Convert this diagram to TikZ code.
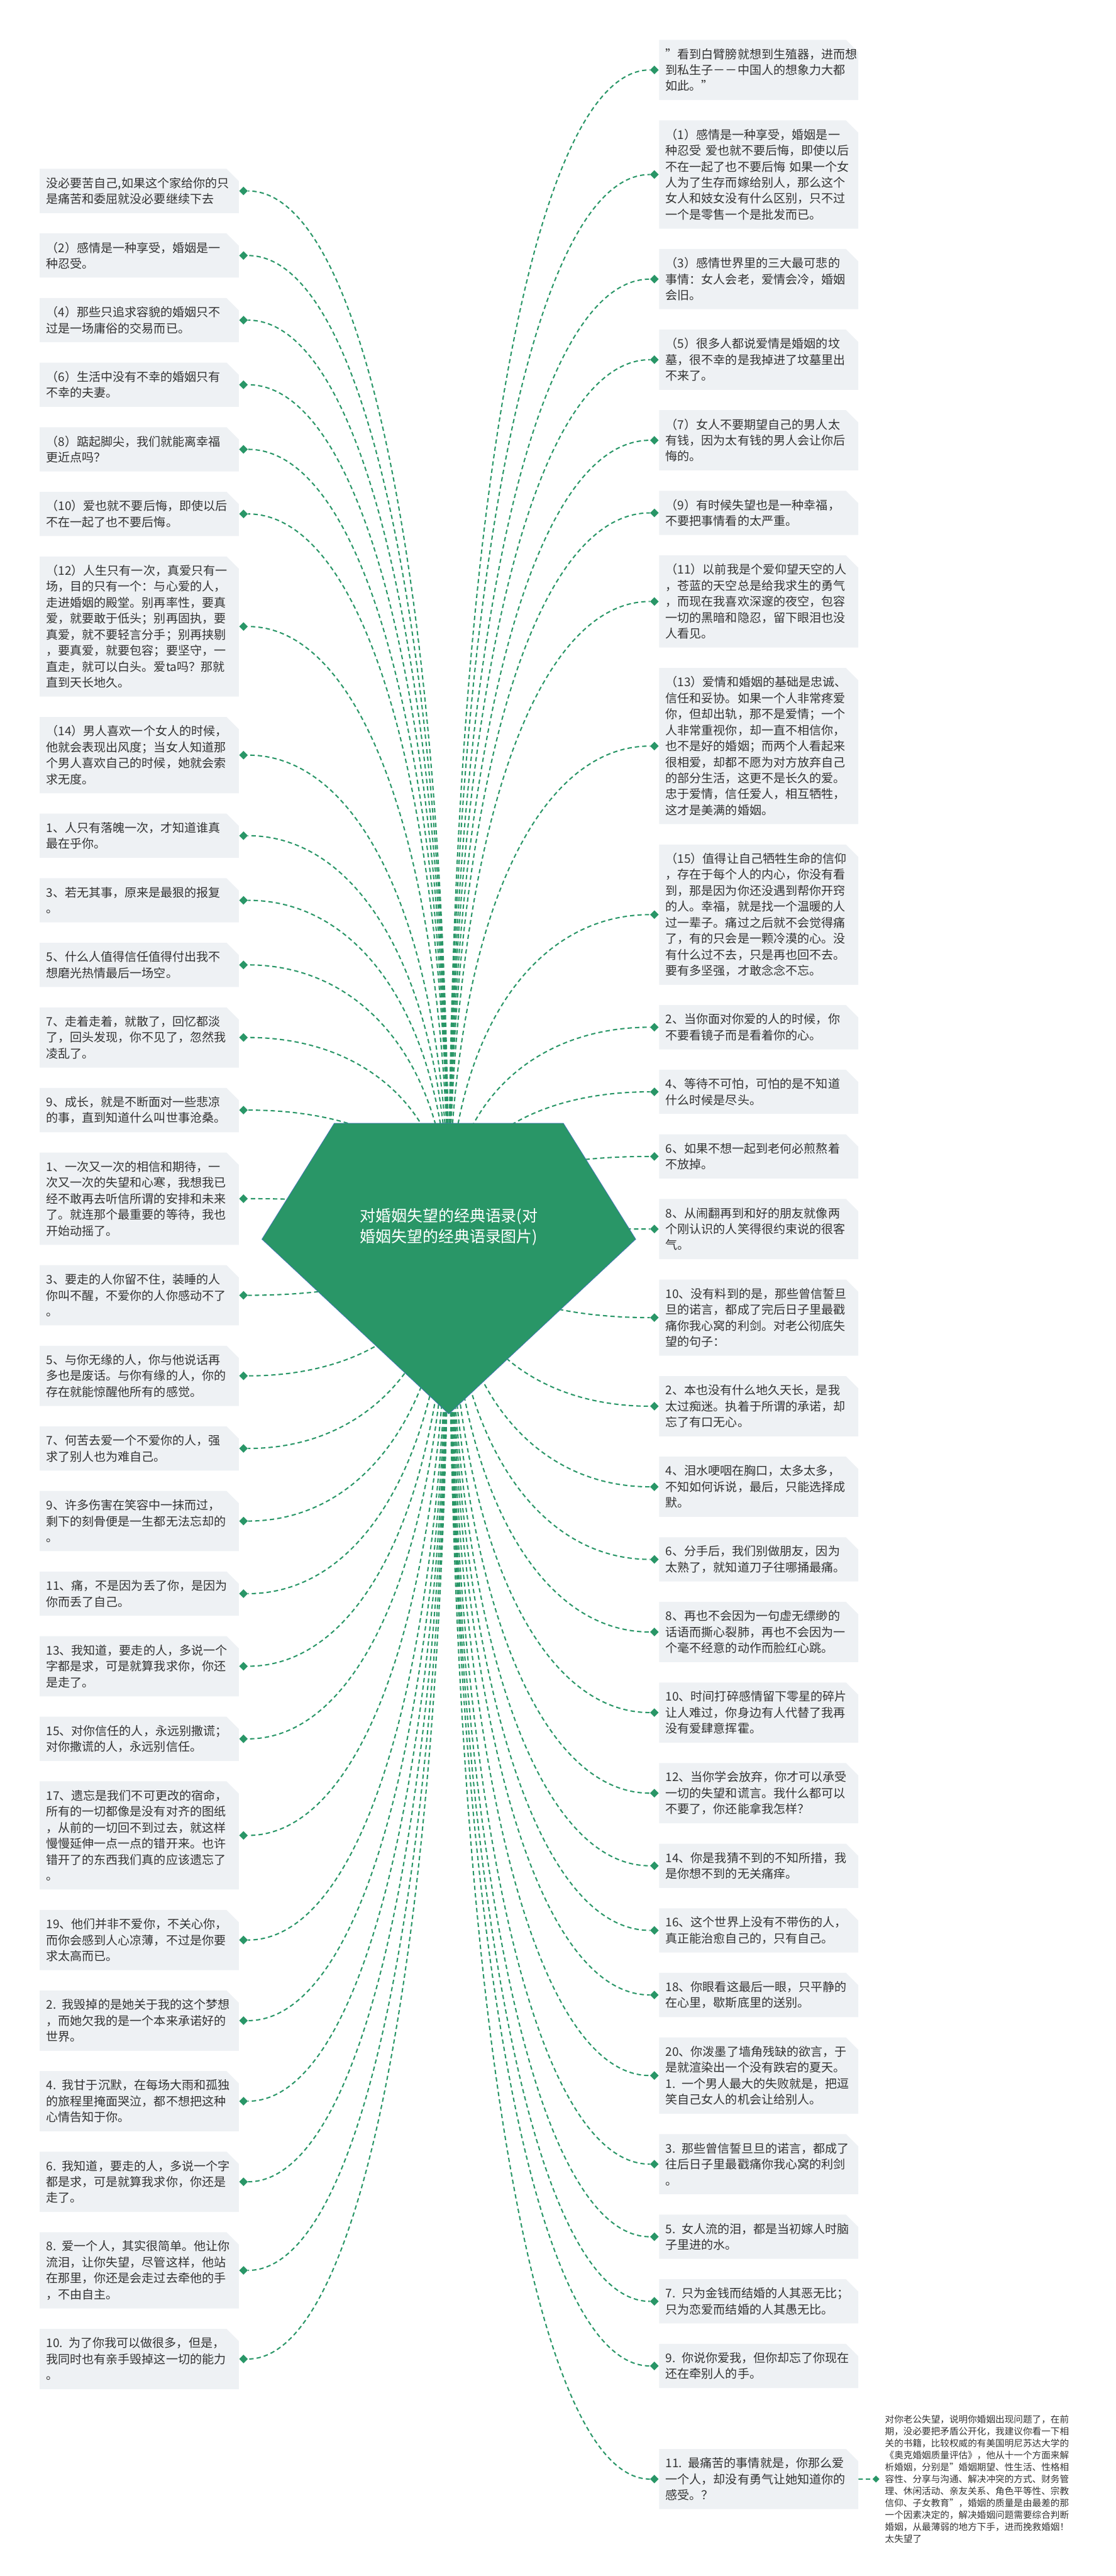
\documentclass[tikz,border=0pt]{standalone}
\usepackage{fontspec}
\setmainfont{Noto Sans CJK SC}
\usepackage{tikz}
\usetikzlibrary{shapes,positioning,calc,backgrounds}
\definecolor{hubgreen}{RGB}{41,150,103}
\definecolor{boxgray}{RGB}{238,241,244}
\definecolor{inkgray}{RGB}{51,51,51}
\definecolor{edgeblue}{RGB}{70,115,190}
\newcommand{\quotefont}{\fontsize{13.75pt}{18.35pt}\selectfont}
\newcommand{\notefont}{\fontsize{10.55pt}{13.75pt}\selectfont}
\newcommand{\hubfont}{\fontsize{18pt}{24pt}\selectfont}
\tikzstyle{saying} = [chamfered rectangle, chamfered rectangle corners=north east,
    chamfered rectangle xsep=7.5pt, chamfered rectangle ysep=6.5pt,
    fill=boxgray, text=inkgray, font=\quotefont, align=left,
    text width=213.5pt, inner xsep=0pt, inner ysep=0pt, minimum width=228.5pt]
\tikzstyle{knob} = [diamond, fill=hubgreen, inner sep=0pt, minimum size=10pt]
\tikzstyle{link} = [draw=hubgreen, line width=1.5pt, dash pattern=on 5pt off 3.5pt]
\tikzstyle{hubtext} = [text=white, font=\hubfont, align=center]
\tikzstyle{notebox} = [text=inkgray, font=\notefont, align=left, inner sep=0pt]
\tikzset{nlines/.style={minimum height=#1*18.35pt+14pt}}

\begin{document}
\begin{tikzpicture}
    \useasboundingbox (0,0) rectangle (1280pt,-2955pt);
    % Left column
    \node [saying, nlines=2, anchor=north] (l1) at (159.75pt,-193.5pt) {没必要苦自己,如果这个家给你的只\\是痛苦和委屈就没必要继续下去};
    \node [saying, nlines=2, below=23pt of l1] (l2) {（2）感情是一种享受，婚姻是一\\种忍受。};
    \node [saying, nlines=2, below=23pt of l2] (l3) {（4）那些只追求容貌的婚姻只不\\过是一场庸俗的交易而已。};
    \node [saying, nlines=2, below=23pt of l3] (l4) {（6）生活中没有不幸的婚姻只有\\不幸的夫妻。};
    \node [saying, nlines=2, below=23pt of l4] (l5) {（8）踮起脚尖，我们就能离幸福\\更近点吗？};
    \node [saying, nlines=2, below=23pt of l5] (l6) {（10）爱也就不要后悔，即使以后\\不在一起了也不要后悔。};
    \node [saying, nlines=8, below=23pt of l6] (l7) {（12）人生只有一次，真爱只有一\\场，目的只有一个：与心爱的人，\\走进婚姻的殿堂。别再率性，要真\\爱，就要敢于低头；别再固执，要\\真爱，就不要轻言分手；别再挟剔\\，要真爱，就要包容；要坚守，一\\直走，就可以白头。爱ta吗？那就\\直到天长地久。};
    \node [saying, nlines=4, below=23pt of l7] (l8) {（14）男人喜欢一个女人的时候，\\他就会表现出风度；当女人知道那\\个男人喜欢自己的时候，她就会索\\求无度。};
    \node [saying, nlines=2, below=23pt of l8] (l9) {1、人只有落魄一次，才知道谁真\\最在乎你。};
    \node [saying, nlines=2, below=23pt of l9] (l10) {3、若无其事，原来是最狠的报复\\。};
    \node [saying, nlines=2, below=23pt of l10] (l11) {5、什么人值得信任值得付出我不\\想磨光热情最后一场空。};
    \node [saying, nlines=3, below=23pt of l11] (l12) {7、走着走着，就散了，回忆都淡\\了，回头发现，你不见了，忽然我\\凌乱了。};
    \node [saying, nlines=2, below=23pt of l12] (l13) {9、成长，就是不断面对一些悲凉\\的事，直到知道什么叫世事沧桑。};
    \node [saying, nlines=5, below=23pt of l13] (l14) {1、一次又一次的相信和期待，一\\次又一次的失望和心寒，我想我已\\经不敢再去听信所谓的安排和未来\\了。就连那个最重要的等待，我也\\开始动摇了。};
    \node [saying, nlines=3, below=23pt of l14] (l15) {3、要走的人你留不住，装睡的人\\你叫不醒，不爱你的人你感动不了\\。};
    \node [saying, nlines=3, below=23pt of l15] (l16) {5、与你无缘的人，你与他说话再\\多也是废话。与你有缘的人，你的\\存在就能惊醒他所有的感觉。};
    \node [saying, nlines=2, below=23pt of l16] (l17) {7、何苦去爱一个不爱你的人，强\\求了别人也为难自己。};
    \node [saying, nlines=3, below=23pt of l17] (l18) {9、许多伤害在笑容中一抹而过，\\剩下的刻骨便是一生都无法忘却的\\。};
    \node [saying, nlines=2, below=23pt of l18] (l19) {11、痛，不是因为丢了你，是因为\\你而丢了自己。};
    \node [saying, nlines=3, below=23pt of l19] (l20) {13、我知道，要走的人，多说一个\\字都是求，可是就算我求你，你还\\是走了。};
    \node [saying, nlines=2, below=23pt of l20] (l21) {15、对你信任的人，永远别撒谎；\\对你撒谎的人，永远别信任。};
    \node [saying, nlines=6, below=23pt of l21] (l22) {17、遗忘是我们不可更改的宿命，\\所有的一切都像是没有对齐的图纸\\，从前的一切回不到过去，就这样\\慢慢延伸一点一点的错开来。也许\\错开了的东西我们真的应该遗忘了\\。};
    \node [saying, nlines=3, below=23pt of l22] (l23) {19、他们并非不爱你，不关心你，\\而你会感到人心凉薄，不过是你要\\求太高而已。};
    \node [saying, nlines=3, below=23pt of l23] (l24) {2. 我毁掉的是她关于我的这个梦想\\，而她欠我的是一个本来承诺好的\\世界。};
    \node [saying, nlines=3, below=23pt of l24] (l25) {4. 我甘于沉默，在每场大雨和孤独\\的旅程里掩面哭泣，都不想把这种\\心情告知于你。};
    \node [saying, nlines=3, below=23pt of l25] (l26) {6. 我知道，要走的人，多说一个字\\都是求，可是就算我求你，你还是\\走了。};
    \node [saying, nlines=4, below=23pt of l26] (l27) {8. 爱一个人，其实很简单。他让你\\流泪，让你失望，尽管这样，他站\\在那里，你还是会走过去牵他的手\\，不由自主。};
    \node [saying, nlines=3, below=23pt of l27] (l28) {10. 为了你我可以做很多，但是，\\我同时也有亲手毁掉这一切的能力\\。};
    % Right column
    \node [saying, nlines=3, anchor=north] (r1) at (870.5pt,-45.5pt) {"看到白臂膀就想到生殖器，进而想\\到私生子－－中国人的想象力大都\\如此。"};
    \node [saying, nlines=6, below=23pt of r1] (r2) {（1）感情是一种享受，婚姻是一\\种忍受~爱也就不要后悔，即使以后\\不在一起了也不要后悔~如果一个女\\人为了生存而嫁给别人，那么这个\\女人和妓女没有什么区别，只不过\\一个是零售一个是批发而已。};
    \node [saying, nlines=3, below=23pt of r2] (r3) {（3）感情世界里的三大最可悲的\\事情：女人会老，爱情会冷，婚姻\\会旧。};
    \node [saying, nlines=3, below=23pt of r3] (r4) {（5）很多人都说爱情是婚姻的坟\\墓，很不幸的是我掉进了坟墓里出\\不来了。};
    \node [saying, nlines=3, below=23pt of r4] (r5) {（7）女人不要期望自己的男人太\\有钱，因为太有钱的男人会让你后\\悔的。};
    \node [saying, nlines=2, below=23pt of r5] (r6) {（9）有时候失望也是一种幸福，\\不要把事情看的太严重。};
    \node [saying, nlines=5, below=23pt of r6] (r7) {（11）以前我是个爱仰望天空的人\\，苍蓝的天空总是给我求生的勇气\\，而现在我喜欢深邃的夜空，包容\\一切的黑暗和隐忍，留下眼泪也没\\人看见。};
    \node [saying, nlines=9, below=23pt of r7] (r8) {（13）爱情和婚姻的基础是忠诚、\\信任和妥协。如果一个人非常疼爱\\你，但却出轨，那不是爱情；一个\\人非常重视你，却一直不相信你，\\也不是好的婚姻；而两个人看起来\\很相爱，却都不愿为对方放弃自己\\的部分生活，这更不是长久的爱。\\忠于爱情，信任爱人，相互牺牲，\\这才是美满的婚姻。};
    \node [saying, nlines=8, below=23pt of r8] (r9) {（15）值得让自己牺牲生命的信仰\\，存在于每个人的内心，你没有看\\到，那是因为你还没遇到帮你开窍\\的人。幸福，就是找一个温暖的人\\过一辈子。痛过之后就不会觉得痛\\了，有的只会是一颗冷漠的心。没\\有什么过不去，只是再也回不去。\\要有多坚强，才敢念念不忘。};
    \node [saying, nlines=2, below=23pt of r9] (r10) {2、当你面对你爱的人的时候，你\\不要看镜子而是看着你的心。};
    \node [saying, nlines=2, below=23pt of r10] (r11) {4、等待不可怕，可怕的是不知道\\什么时候是尽头。};
    \node [saying, nlines=2, below=23pt of r11] (r12) {6、如果不想一起到老何必煎熬着\\不放掉。};
    \node [saying, nlines=3, below=23pt of r12] (r13) {8、从闹翻再到和好的朋友就像两\\个刚认识的人笑得很约束说的很客\\气。};
    \node [saying, nlines=4, below=23pt of r13] (r14) {10、没有料到的是，那些曾信誓旦\\旦的诺言，都成了完后日子里最戳\\痛你我心窝的利剑。对老公彻底失\\望的句子：};
    \node [saying, nlines=3, below=23pt of r14] (r15) {2、本也没有什么地久天长，是我\\太过痴迷。执着于所谓的承诺，却\\忘了有口无心。};
    \node [saying, nlines=3, below=23pt of r15] (r16) {4、泪水哽咽在胸口，太多太多，\\不知如何诉说，最后，只能选择成\\默。};
    \node [saying, nlines=2, below=23pt of r16] (r17) {6、分手后，我们别做朋友，因为\\太熟了，就知道刀子往哪捅最痛。};
    \node [saying, nlines=3, below=23pt of r17] (r18) {8、再也不会因为一句虚无缥缈的\\话语而撕心裂肺，再也不会因为一\\个毫不经意的动作而脸红心跳。};
    \node [saying, nlines=3, below=23pt of r18] (r19) {10、时间打碎感情留下零星的碎片\\让人难过，你身边有人代替了我再\\没有爱肆意挥霍。};
    \node [saying, nlines=3, below=23pt of r19] (r20) {12、当你学会放弃，你才可以承受\\一切的失望和谎言。我什么都可以\\不要了，你还能拿我怎样？};
    \node [saying, nlines=2, below=23pt of r20] (r21) {14、你是我猜不到的不知所措，我\\是你想不到的无关痛痒。};
    \node [saying, nlines=2, below=23pt of r21] (r22) {16、这个世界上没有不带伤的人，\\真正能治愈自己的，只有自己。};
    \node [saying, nlines=2, below=23pt of r22] (r23) {18、你眼看这最后一眼，只平静的\\在心里，歇斯底里的送别。};
    \node [saying, nlines=4, below=23pt of r23] (r24) {20、你泼墨了墙角残缺的欲言，于\\是就渲染出一个没有跌宕的夏天。\\1. 一个男人最大的失败就是，把逗\\笑自己女人的机会让给别人。};
    \node [saying, nlines=3, below=23pt of r24] (r25) {3. 那些曾信誓旦旦的诺言，都成了\\往后日子里最戳痛你我心窝的利剑\\。};
    \node [saying, nlines=2, below=23pt of r25] (r26) {5. 女人流的泪，都是当初嫁人时脑\\子里进的水。};
    \node [saying, nlines=2, below=23pt of r26] (r27) {7. 只为金钱而结婚的人其恶无比；\\只为恋爱而结婚的人其愚无比。};
    \node [saying, nlines=2, below=23pt of r27] (r28) {9. 你说你爱我，但你却忘了你现在\\还在牵别人的手。};
    \node [saying, nlines=3, below=69.5pt of r28] (r29) {11. 最痛苦的事情就是，你那么爱\\一个人，却没有勇气让她知道你的\\感受。？};
    % Centre
    \coordinate (hub) at (515pt,-1407.5pt);
    \filldraw [fill=hubgreen, draw=edgeblue, line width=0.5pt, shift={(hub)}]
        (-131.5pt,119pt) -- (131.5pt,119pt) -- (214.5pt,-14pt) -- (0pt,-214.5pt) -- (-214.5pt,-14pt) -- cycle;
    \node [hubtext] (title) at (hub) {对婚姻失望的经典语录(对\\婚姻失望的经典语录图片)};
    % Draw edges
    \foreach \n in {1,...,28} {
        \node [knob, right=0pt of l\n] (lk\n) {};
        \coordinate (lb\n) at (title.center |- lk\n);
        \begin{scope}[on background layer]
            \path [link] (title.center) .. controls ($(title.center)!.6!(lb\n)$) and ($(lk\n)!.6!(lb\n)$) .. (lk\n);
        \end{scope}
    }
    \foreach \n in {1,...,29} {
        \node [knob, left=0pt of r\n] (rk\n) {};
        \coordinate (rb\n) at (title.center |- rk\n);
        \begin{scope}[on background layer]
            \path [link] (title.center) .. controls ($(title.center)!.6!(rb\n)$) and ($(rk\n)!.6!(rb\n)$) .. (rk\n);
        \end{scope}
    }
    % Note on the last quote
    \node [knob, minimum size=8pt, right=16pt of r29] (nk) {};
    \path [link] (r29) -- (nk);
    \node [notebox, right=6pt of nk] (advice) {对你老公失望，说明你婚姻出现问题了，在前\\期，没必要把矛盾公开化，我建议你看一下相\\关的书籍，比较权威的有美国明尼苏达大学的\\《奥克婚姻质量评估》，他从十一个方面来解\\析婚姻，分别是"婚姻期望、性生活、性格相\\容性、分享与沟通、解决冲突的方式、财务管\\理、休闲活动、亲友关系、角色平等性、宗教\\信仰、子女教育"，婚姻的质量是由最差的那\\一个因素决定的，解决婚姻问题需要综合判断\\婚姻，从最薄弱的地方下手，进而挽救婚姻！\\太失望了};
\end{tikzpicture}
\end{document}
